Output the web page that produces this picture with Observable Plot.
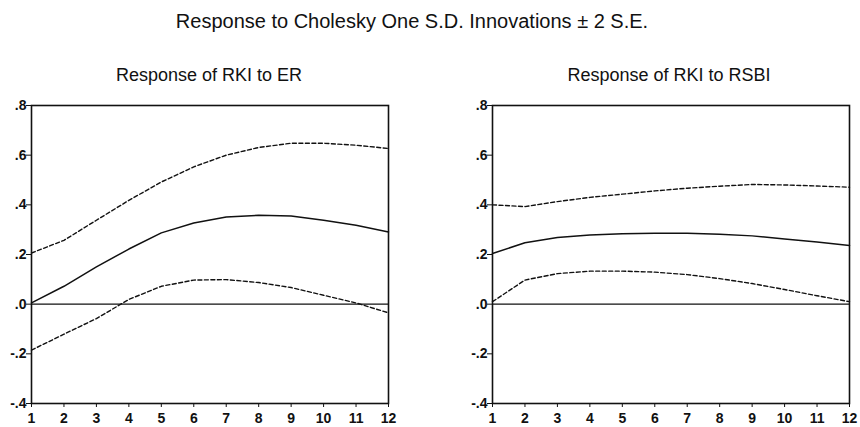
<!DOCTYPE html>
<html><head><meta charset="utf-8">
<script src="https://cdn.jsdelivr.net/npm/d3@7"></script>
<script src="https://cdn.jsdelivr.net/npm/@observablehq/plot@0.6"></script>
<style>
body{margin:0;background:#fff;}
#wrap{position:relative;width:860px;height:427px;font-family:"Liberation Sans",Arial,sans-serif;overflow:hidden;}
.t{position:absolute;white-space:nowrap;color:#111;transform:translateX(-50%);}
.p{position:absolute;top:85px;}
.p text{font-weight:bold !important;}
</style></head><body><div id="wrap"></div>
<script>
const mainTitle = "Response to Cholesky One S.D. Innovations \u00b1 2 S.E.";
const panelTitles = ["Response of RKI to ER", "Response of RKI to RSBI"];
const periods = [1,2,3,4,5,6,7,8,9,10,11,12];
const yTicks = [-0.4,-0.2,0,0.2,0.4,0.6,0.8];
const yTickLabels = ["-.4","-.2",".0",".2",".4",".6",".8"];

// Response of RKI to ER
const erResp  = [0.005,0.072,0.150,0.222,0.287,0.327,0.351,0.358,0.355,0.338,0.318,0.291];
const erUpper = [0.206,0.257,0.338,0.418,0.492,0.553,0.600,0.631,0.648,0.648,0.640,0.627];
const erLower = [-0.185,-0.121,-0.058,0.019,0.072,0.097,0.099,0.087,0.067,0.036,0.005,-0.035];

// Response of RKI to RSBI
const rsbiResp  = [0.204,0.247,0.268,0.279,0.284,0.286,0.286,0.282,0.275,0.262,0.250,0.236];
const rsbiUpper = [0.400,0.393,0.413,0.430,0.443,0.456,0.467,0.475,0.482,0.480,0.476,0.471];
const rsbiLower = [0.010,0.097,0.123,0.133,0.133,0.129,0.119,0.103,0.083,0.059,0.034,0.010];

const wrap = document.getElementById("wrap");

function addText(txt, cx, top, size) {
  const d = document.createElement("div");
  d.className = "t";
  d.textContent = txt;
  d.style.left = cx + "px";
  d.style.top = top + "px";
  d.style.fontSize = size + "px";
  d.style.lineHeight = size + "px";
  wrap.appendChild(d);
}

function panel(resp, upper, lower, mL, mR) {
  const rows = (arr) => periods.map((p, i) => ({p, v: arr[i]}));
  return Plot.plot({
    width: 430, height: 342,
    marginTop: 20, marginBottom: 24, marginLeft: mL, marginRight: mR,
    style: {fontFamily: "'Liberation Sans', Arial, sans-serif", background: "transparent", color: "#111"},
    x: {domain: [1, 12]},
    y: {domain: [-0.4, 0.8]},
    marks: [
      Plot.ruleY([0], {stroke: "#111", strokeWidth: 1.2}),
      Plot.line(rows(upper), {x: "p", y: "v", stroke: "#111", strokeWidth: 1.4, strokeDasharray: "4,2.5"}),
      Plot.line(rows(lower), {x: "p", y: "v", stroke: "#111", strokeWidth: 1.4, strokeDasharray: "4,2.5"}),
      Plot.line(rows(resp), {x: "p", y: "v", stroke: "#111", strokeWidth: 1.5}),
      Plot.frame({stroke: "#111", strokeWidth: 1.6}),
      Plot.axisX(periods, {tickSize: 4, tickPadding: 6, fontSize: 14, tickFormat: d => String(d), label: null}),
      Plot.axisY(yTicks, {tickSize: 5, tickPadding: 0, fontSize: 14, tickFormat: d => yTickLabels[yTicks.indexOf(d)], label: null})
    ]
  });
}

const left = panel(erResp, erUpper, erLower, 31, 42);
left.classList.add("p"); left.style.left = "0px";
wrap.appendChild(left);
const right = panel(rsbiResp, rsbiUpper, rsbiLower, 62, 11);
right.classList.add("p"); right.style.left = "430px";
wrap.appendChild(right);

addText(mainTitle, 412, 11, 20);
addText(panelTitles[0], 209, 66, 18);
addText(panelTitles[1], 669, 66, 18);
</script></body></html>
